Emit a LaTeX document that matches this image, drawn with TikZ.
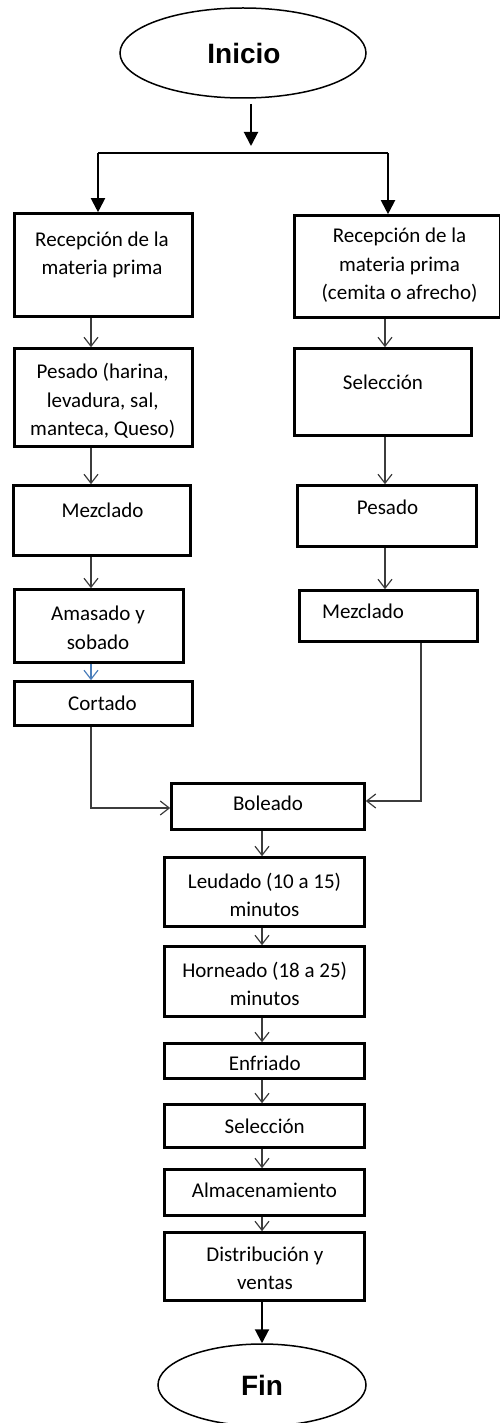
\documentclass[tikz,border=0pt]{standalone}
\usepackage{fontspec}
\setmainfont{Carlito}
\newfontfamily\headfont{Liberation Sans}
\usetikzlibrary{arrows.meta,shapes.geometric}
\definecolor{connector}{RGB}{60,60,60}
\definecolor{accentblue}{RGB}{74,126,187}
\begin{document}
\begin{tikzpicture}[x=1pt,y=-1pt,
  proc/.style={draw=black,line width=2.6pt,rectangle,inner sep=0pt},
  txt/.style={align=center,inner sep=0pt,font=\fontsize{21}{28.5}\selectfont},
  terminal/.style={draw=black,line width=1.5pt,ellipse,inner sep=0pt,
    font=\headfont\bfseries\fontsize{28}{32}\selectfont},
  conn/.style={draw=connector,line width=1.2pt,-{Straight Barb[length=9pt,width=14pt,line width=1.2pt]}},
  bigarrow/.style={draw=black,line width=2pt,-{Triangle[length=14pt,width=14pt]}},
  branch/.style={draw=black,line width=2pt}]
\useasboundingbox (0,0) rectangle (499,1423);

% start / end terminals
\node[terminal,minimum width=246pt,minimum height=90pt] (inicio) at (243,53) {};
\node (inicioT) at (244,53) [font=\headfont\bfseries\fontsize{28}{32}\selectfont,inner sep=0pt] {Inicio};
\node[terminal,minimum width=208pt,minimum height=82pt] (fin) at (262,1385) {};
\node (finT) at (262,1385) [font=\headfont\bfseries\fontsize{28}{32}\selectfont,inner sep=0pt] {Fin};

% left branch
\node[proc,minimum width=178pt,minimum height=103pt] (L1) at (103.5,265) {};
\node[proc,minimum width=178pt,minimum height=98pt]  (L2) at (103.5,397.5) {};
\node[proc,minimum width=177pt,minimum height=70pt]  (L3) at (102,520.5) {};
\node[proc,minimum width=169pt,minimum height=73pt]  (L4) at (99,626) {};
\node[proc,minimum width=178pt,minimum height=44pt]  (L5) at (103.5,703.5) {};
\node[txt] (L1t) at (102,255) {Recepción de la\\materia prima};
\node[txt] (L2t) at (102.7,401) {Pesado (harina,\\levadura, sal,\\manteca, Queso)};
\node[txt] (L3t) at (102.5,510) {Mezclado};
\node[txt] (L4t) at (98,628) {Amasado y\\sobado};
\node[txt] (L5t) at (102.5,703) {Cortado};

% right branch
\node[proc,minimum width=206pt,minimum height=102pt] (R1) at (397.5,266.5) {};
\node[proc,minimum width=177pt,minimum height=87pt]  (R2) at (383,392) {};
\node[proc,minimum width=179pt,minimum height=61pt]  (R3) at (387,516) {};
\node[proc,minimum width=178pt,minimum height=51pt]  (R4) at (388.5,616) {};
\node[txt] (R1t) at (399.5,265.5) {Recepción de la\\materia prima\\(cemita o afrecho)};
\node[txt] (R2t) at (383,382) {Selección};
\node[txt] (R3t) at (387.5,507) {Pesado};
\node[txt] (R4t) at (363,611) {Mezclado};

% common trunk
\node[proc,minimum width=193pt,minimum height=46pt] (C1) at (268,806.5) {};
\node[proc,minimum width=200pt,minimum height=69pt] (C2) at (264.5,892) {};
\node[proc,minimum width=200pt,minimum height=70pt] (C3) at (264.5,981.5) {};
\node[proc,minimum width=200pt,minimum height=35pt] (C4) at (264.5,1061) {};
\node[proc,minimum width=200pt,minimum height=43pt] (C5) at (264.5,1126) {};
\node[proc,minimum width=200pt,minimum height=46pt] (C6) at (264.5,1192.5) {};
\node[proc,minimum width=200pt,minimum height=68pt] (C7) at (264.5,1266.5) {};
\node[txt] (C1t) at (268,803) {Boleado};
\node[txt] (C2t) at (264.5,895) {Leudado (10 a 15)\\minutos};
\node[txt] (C3t) at (264.7,984) {Horneado (18 a 25)\\minutos};
\node[txt] (C4t) at (264.7,1063) {Enfriado};
\node[txt] (C5t) at (264.7,1126) {Selección};
\node[txt] (C6t) at (264.5,1190) {Almacenamiento};
\node[txt] (C7t) at (265,1268.5) {Distribución y\\ventas};

% guide coordinates for connector columns
\coordinate (top) at (251,104);
\coordinate (topTip) at (251,146);
\coordinate (bl) at (98,153);
\coordinate (br) at (388,153);
\coordinate (lx) at (91,0);
\coordinate (rx) at (385,0);
\coordinate (rx2) at (421,0);
\coordinate (cx) at (262,0);
\coordinate (jl) at (0,808);
\coordinate (jr) at (0,801);

% split from the start
\draw[bigarrow] (top) -- (topTip);
\draw[branch] (bl) -- (br);
\draw[bigarrow] (bl) -- (L1.north -| bl);
\draw[bigarrow] (br) -- (R1.north -| br);

% left chain
\draw[conn] (L1.south -| lx) -- (L2.north -| lx);
\draw[conn] (L2.south -| lx) -- (L3.north -| lx);
\draw[conn] (L3.south -| lx) -- (L4.north -| lx);
\draw[conn,draw=accentblue] (L4.south -| lx) -- (L5.north -| lx);

% right chain
\draw[conn] (R1.south -| rx) -- (R2.north -| rx);
\draw[conn] (R2.south -| rx) -- (R3.north -| rx);
\draw[conn] (R3.south -| rx) -- (R4.north -| rx);

% merge into Boleado
\draw[conn] (L5.south -| lx) |- (C1.west |- jl);
\draw[conn] (R4.south -| rx2) |- (C1.east |- jr);

% trunk
\draw[conn] (C1.south -| cx) -- (C2.north -| cx);
\draw[conn] (C2.south -| cx) -- (C3.north -| cx);
\draw[conn] (C3.south -| cx) -- (C4.north -| cx);
\draw[conn] (C4.south -| cx) -- (C5.north -| cx);
\draw[conn] (C5.south -| cx) -- (C6.north -| cx);
\draw[conn] (C6.south -| cx) -- (C7.north -| cx);
\draw[bigarrow] (C7.south -| cx) -- (fin.north -| cx);
\end{tikzpicture}
\end{document}
